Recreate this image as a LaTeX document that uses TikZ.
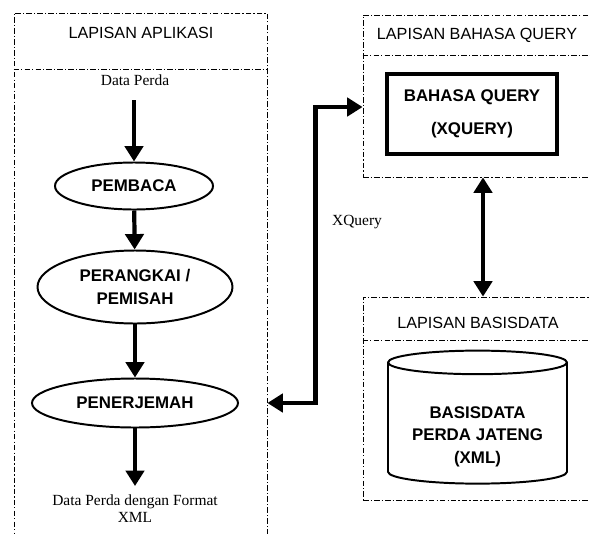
\documentclass[tikz,border=0pt]{standalone}
\usepackage{fontspec}
\setmainfont{Liberation Serif}
\setsansfont{Liberation Sans}
\usetikzlibrary{shapes.geometric,arrows.meta,calc}

\newcommand{\pxu}{0.025cm}
\tikzset{
    panel/.style={draw, line width=0.6pt, dash pattern=on 4pt off 1.5pt on 0.8pt off 1.5pt, inner sep=0pt},
    hdr/.style={font=\sffamily\fontsize{11.5}{13}\selectfont},
    proc/.style={draw, ellipse, line width=1.4pt, inner sep=0pt, font=\sffamily\bfseries\fontsize{12}{17}\selectfont, align=center},
    note/.style={font=\fontsize{11}{12}\selectfont, align=center},
    flow/.style={line width=3pt, -{Triangle[width=13pt,length=11pt]}},
    biflow/.style={line width=3pt, {Triangle[width=13pt,length=11pt]}-{Triangle[width=13pt,length=11pt]}}
}

\begin{document}
\begin{tikzpicture}[x=\pxu, y=-\pxu]
    \useasboundingbox (0,0) rectangle (590,533);
    \clip (0,0) rectangle (590,533);

    % Draw the three panels
    \node[panel, minimum width=253*\pxu, minimum height=532*\pxu] (app) at (140.5,279) {};
    \node[panel, minimum width=240*\pxu, minimum height=162*\pxu] (query) at (483,96) {};
    \node[panel, minimum width=240*\pxu, minimum height=203*\pxu] (basis) at (483,398.5) {};
    \draw[panel] (app.west |- 0,69) -- (app.east |- 0,69);
    \draw[panel] (query.west |- 0,55) -- (query.east |- 0,55);
    \draw[panel] (basis.west |- 0,340) -- (basis.east |- 0,340);

    % Panel titles
    \node[hdr] (apphdr) at (141,33) {LAPISAN APLIKASI};
    \node[hdr] (queryhdr) at (477,35) {LAPISAN BAHASA QUERY};
    \node[hdr] (basishdr) at (478,323) {LAPISAN BASISDATA};

    % Application layer
    \node[note] (input) at (135,80) {Data Perda};
    \node[proc, minimum width=158*\pxu, minimum height=47*\pxu] (pembaca) at (134,186) {PEMBACA};
    \node[proc, minimum width=195*\pxu, minimum height=73*\pxu] (perangkai) at (135,287) {PERANGKAI /\\PEMISAH};
    \node[proc, minimum width=206*\pxu, minimum height=49*\pxu] (penerjemah) at (135,403) {PENERJEMAH};
    \node[note] (output) at (135,509) {Data Perda dengan Format\\XML};

    \draw[flow, shorten <=7pt] (input.south -| pembaca) -- (pembaca.north);
    \foreach \a/\b in {pembaca/perangkai, perangkai/penerjemah} {
        \draw[flow] (\a) -- (\b);
    }
    \draw[flow, shorten >=3pt] (penerjemah) -- (output.north);

    % Query layer
    \node[draw, line width=2.5pt, minimum width=170*\pxu, minimum height=80*\pxu,
          font=\sffamily\bfseries\fontsize{12}{23}\selectfont, align=center] (bq) at (472,114) {BAHASA QUERY\\(XQUERY)};

    % Database layer
    \node[draw, cylinder, shape border rotate=90, aspect=0.18, line width=1.4pt,
          minimum width=179*\pxu, minimum height=133*\pxu, inner sep=0pt,
          font=\sffamily\bfseries\fontsize{12}{16}\selectfont, align=center] (db) at (477.5,423.5)
          {\\[11pt]BASISDATA\\PERDA JATENG\\(XML)};

    % Connections between the layers
    \draw[biflow] (app.east |- penerjemah) -- ++(48,0) |- ($(query.west)+(0,11)$);
    \node[note] (xq) at (357,222) {XQuery};
    \draw[biflow] (query.south) -- (basis.north);
\end{tikzpicture}
\end{document}
